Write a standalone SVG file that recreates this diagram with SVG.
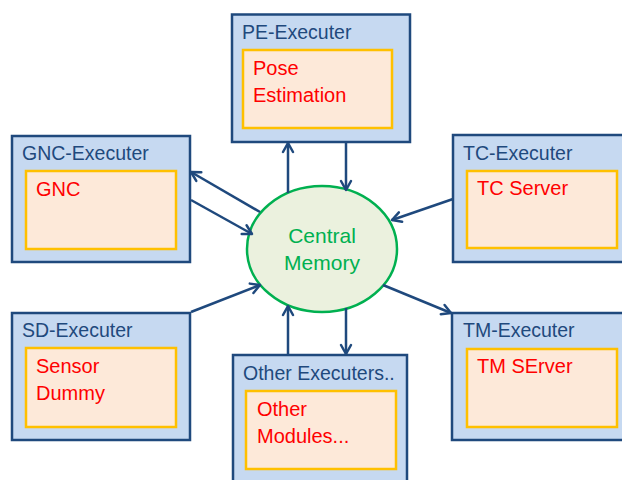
<svg xmlns="http://www.w3.org/2000/svg" width="622" height="480" viewBox="0 0 622 480">
  <style>
    .exec { fill: #C6D9F1; stroke: #1F497D; stroke-width: 2.5; }
    .module { fill: #FDE9D9; stroke: #FFC000; stroke-width: 2.5; }
    .title { font-family: "Liberation Sans", Arial, sans-serif; font-size: 19.5px; fill: #1F497D; }
    .label { font-family: "Liberation Sans", Arial, sans-serif; font-size: 20px; fill: #FF0000; }
    .mem { fill: #EBF1DE; stroke: #00B050; stroke-width: 2.5; }
    .memtext { font-family: "Liberation Sans", Arial, sans-serif; font-size: 21px; fill: #00B050; text-anchor: middle; }
    .link { stroke: #1F497D; stroke-width: 2.5; fill: none; marker-end: url(#arrow); }
  </style>
  <defs>
    <marker id="arrow" markerUnits="userSpaceOnUse" markerWidth="14" markerHeight="14" viewBox="0 0 14 14" refX="11" refY="7" orient="auto">
      <path d="M2,2 L11,7 L2,12" fill="none" stroke="#1F497D" stroke-width="2.5" stroke-linecap="round" stroke-linejoin="round"/>
    </marker>
  </defs>

  <rect width="622" height="480" fill="#FFFFFF"/>

  <!-- Executer nodes -->
  <g id="pe-executer">
    <rect class="exec" x="232" y="14.5" width="178" height="127.5"/>
    <text class="title" x="242" y="39">PE-Executer</text>
    <rect class="module" x="243" y="50" width="149" height="78"/>
    <text class="label" x="253" y="75">Pose</text>
    <text class="label" x="253" y="102">Estimation</text>
  </g>

  <g id="gnc-executer">
    <rect class="exec" x="12" y="136" width="178" height="126"/>
    <text class="title" x="22" y="160">GNC-Executer</text>
    <rect class="module" x="26" y="171" width="150" height="78"/>
    <text class="label" x="36" y="196">GNC</text>
  </g>

  <g id="tc-executer">
    <rect class="exec" x="453" y="135" width="180" height="127"/>
    <text class="title" x="463" y="160">TC-Executer</text>
    <rect class="module" x="467" y="171" width="150" height="77"/>
    <text class="label" x="477" y="195">TC Server</text>
  </g>

  <g id="sd-executer">
    <rect class="exec" x="12" y="313" width="178" height="127"/>
    <text class="title" x="22" y="337">SD-Executer</text>
    <rect class="module" x="26" y="348" width="150" height="79"/>
    <text class="label" x="36" y="373">Sensor</text>
    <text class="label" x="36" y="400">Dummy</text>
  </g>

  <g id="tm-executer">
    <rect class="exec" x="452" y="313" width="181" height="127"/>
    <text class="title" x="463" y="337">TM-Executer</text>
    <rect class="module" x="467" y="349" width="150" height="78"/>
    <text class="label" x="477" y="373">TM SErver</text>
  </g>

  <g id="other-executers">
    <rect class="exec" x="233" y="355" width="174" height="135"/>
    <text class="title" x="243" y="380">Other Executers..</text>
    <rect class="module" x="246" y="391" width="150" height="78"/>
    <text class="label" x="257" y="416">Other</text>
    <text class="label" x="257" y="443">Modules...</text>
  </g>

  <!-- Shared memory in the middle -->
  <g id="central-memory">
    <ellipse class="mem" cx="322" cy="249" rx="75" ry="63"/>
    <text class="memtext" x="322" y="243">Central</text>
    <text class="memtext" x="322" y="270">Memory</text>
  </g>

  <!-- Data flow between executers and memory -->
  <g id="connectors">
    <line class="link" x1="288" y1="193" x2="288" y2="143"/>
    <line class="link" x1="346" y1="142" x2="346" y2="190"/>
    <line class="link" x1="260" y1="212" x2="191" y2="172"/>
    <line class="link" x1="191" y1="200" x2="252" y2="234"/>
    <line class="link" x1="453" y1="199" x2="392" y2="220"/>
    <line class="link" x1="191" y1="312" x2="260" y2="285"/>
    <line class="link" x1="383" y1="285" x2="451" y2="313"/>
    <line class="link" x1="288" y1="355" x2="288" y2="306"/>
    <line class="link" x1="346" y1="308" x2="346" y2="354"/>
  </g>
</svg>
